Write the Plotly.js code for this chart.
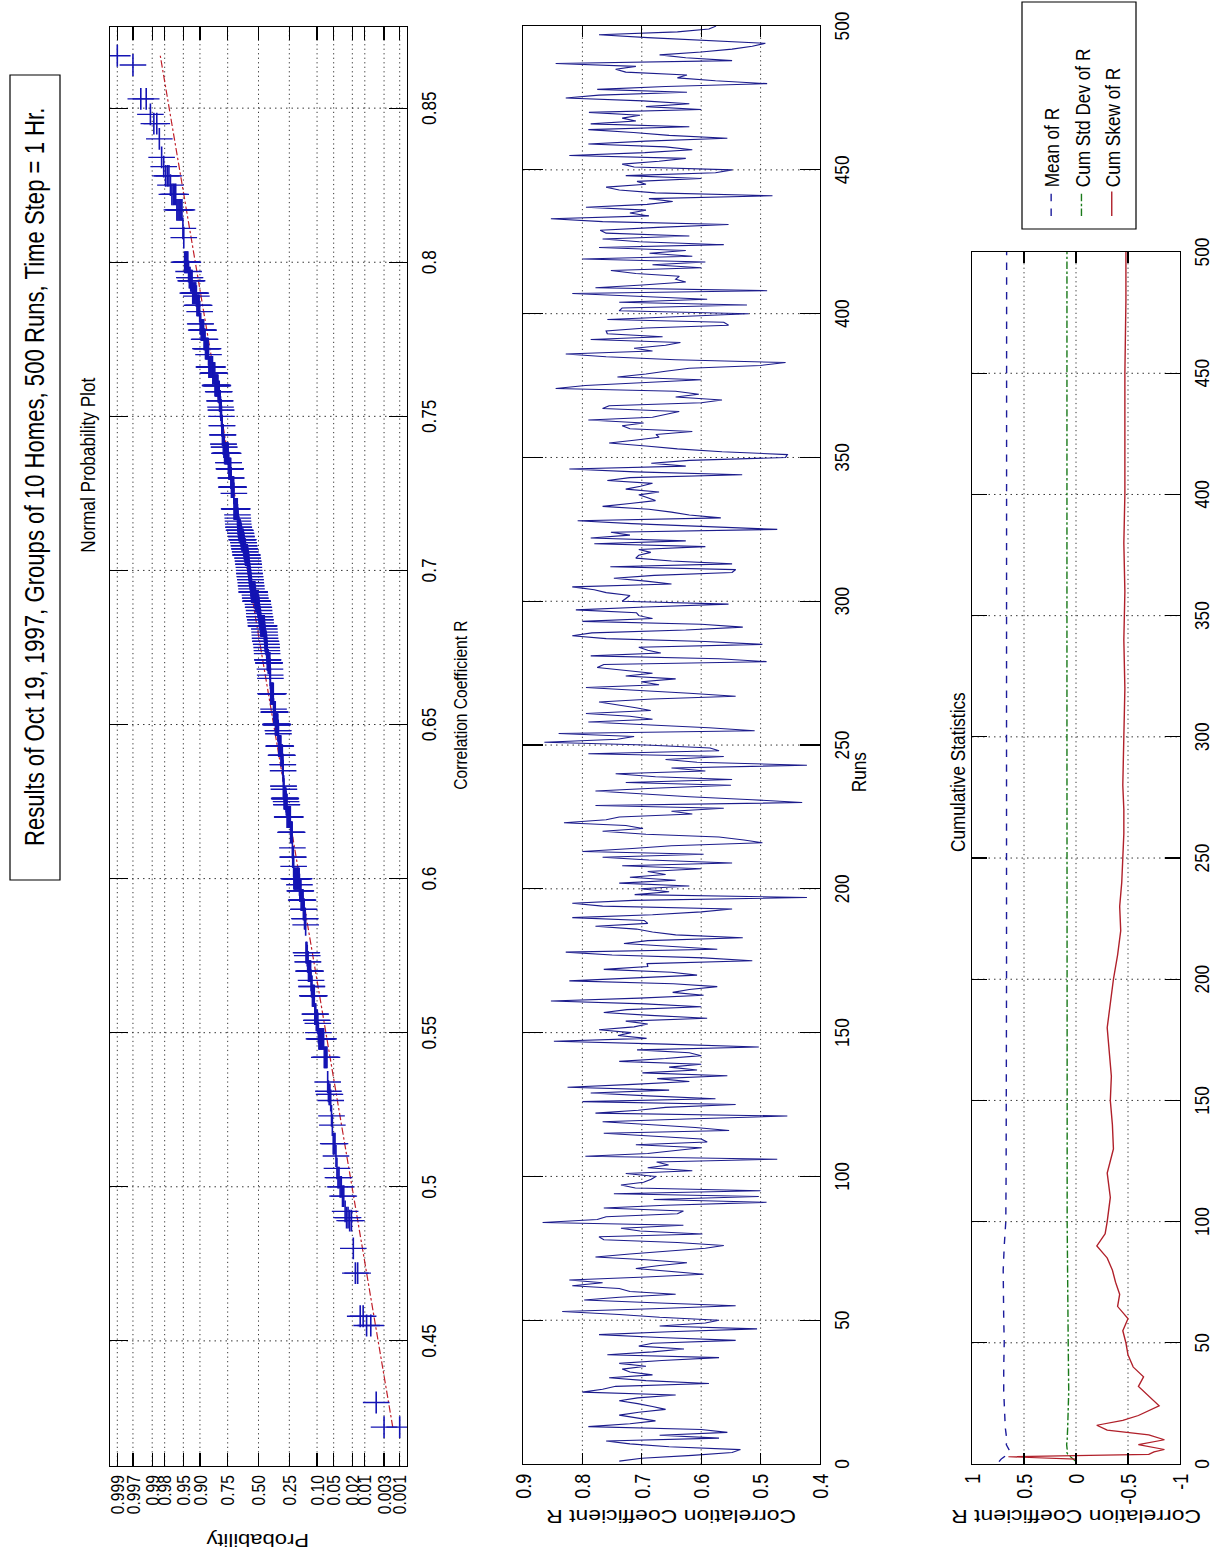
<!DOCTYPE html>
<html><head><meta charset="utf-8">
<script src="https://cdn.plot.ly/plotly-3.0.1.min.js"></script>
<style>
html,body{margin:0;padding:0;background:#fff;overflow:hidden;width:1225px;height:1554px;}
#wrap{position:absolute;left:0;top:0;width:1895px;height:1225px;transform-origin:0 0;transform:translate(0px,1554px) rotate(-90deg) scale(0.82,1);}
#plot{width:1895px;height:1225px;}
</style></head><body><div id="wrap"><div id="plot"></div></div>
<script>
// ---- data ----
const corrR = [
0.738,0.700,0.615,0.548,0.534,0.654,0.720,0.760,0.570,0.670,
0.556,0.600,0.790,0.720,0.677,0.705,0.738,0.705,0.660,0.682,
0.707,0.738,0.707,0.643,0.800,0.766,0.744,0.587,0.693,0.755,
0.682,0.720,0.733,0.693,0.738,0.666,0.570,0.758,0.682,0.629,
0.705,0.682,0.542,0.670,0.772,0.654,0.506,0.670,0.593,0.570,
0.670,0.738,0.834,0.682,0.542,0.670,0.797,0.738,0.643,0.720,
0.738,0.817,0.766,0.822,0.693,0.596,0.650,0.710,0.670,0.624,
0.693,0.778,0.720,0.654,0.593,0.562,0.640,0.764,0.772,0.598,
0.703,0.735,0.630,0.867,0.775,0.760,0.640,0.630,0.764,0.660,
0.490,0.680,0.503,0.747,0.500,0.711,0.735,0.697,0.684,0.676,
0.727,0.615,0.690,0.655,0.675,0.472,0.795,0.690,0.640,0.600,
0.710,0.590,0.600,0.678,0.764,0.553,0.610,0.683,0.766,0.625,
0.455,0.778,0.706,0.660,0.542,0.800,0.576,0.689,0.786,0.654,
0.825,0.715,0.620,0.674,0.556,0.699,0.607,0.654,0.600,0.738,
0.660,0.600,0.620,0.708,0.503,0.660,0.848,0.692,0.740,0.718,
0.772,0.713,0.690,0.727,0.590,0.686,0.764,0.725,0.600,0.695,
0.853,0.704,0.596,0.648,0.620,0.573,0.647,0.822,0.712,0.607,
0.650,0.764,0.690,0.691,0.514,0.596,0.750,0.828,0.573,0.650,
0.730,0.690,0.530,0.643,0.682,0.709,0.778,0.690,0.696,0.817,
0.682,0.600,0.548,0.766,0.817,0.714,0.422,0.712,0.654,0.702,
0.620,0.738,0.643,0.720,0.660,0.690,0.600,0.733,0.548,0.688,
0.766,0.596,0.800,0.716,0.650,0.497,0.528,0.570,0.693,0.766,
0.698,0.727,0.831,0.760,0.738,0.615,0.650,0.562,0.778,0.430,
0.514,0.620,0.707,0.778,0.681,0.550,0.727,0.548,0.677,0.744,
0.593,0.650,0.422,0.607,0.660,0.562,0.790,0.570,0.585,0.693,
0.864,0.741,0.713,0.840,0.510,0.587,0.685,0.790,0.682,0.720,
0.794,0.685,0.710,0.740,0.772,0.682,0.542,0.620,0.713,0.794,
0.671,0.701,0.643,0.727,0.682,0.730,0.775,0.764,0.490,0.570,
0.786,0.668,0.690,0.705,0.497,0.593,0.760,0.817,0.784,0.626,
0.530,0.600,0.800,0.682,0.705,0.709,0.811,0.694,0.554,0.733,
0.727,0.720,0.760,0.780,0.817,0.650,0.693,0.747,0.679,0.548,
0.542,0.753,0.548,0.650,0.710,0.705,0.685,0.705,0.593,0.780,
0.626,0.786,0.720,0.752,0.472,0.600,0.717,0.808,0.567,0.620,
0.650,0.688,0.766,0.720,0.677,0.690,0.705,0.671,0.727,0.702,
0.682,0.758,0.720,0.531,0.711,0.822,0.626,0.684,0.620,0.458,
0.455,0.565,0.640,0.693,0.755,0.713,0.671,0.676,0.615,0.720,
0.733,0.697,0.790,0.682,0.660,0.637,0.766,0.755,0.600,0.565,
0.643,0.604,0.643,0.845,0.795,0.706,0.600,0.741,0.693,0.660,
0.620,0.500,0.458,0.643,0.760,0.828,0.682,0.713,0.660,0.635,
0.786,0.665,0.758,0.760,0.693,0.554,0.562,0.758,0.650,0.520,
0.738,0.733,0.523,0.738,0.590,0.712,0.817,0.489,0.778,0.699,
0.626,0.643,0.637,0.710,0.752,0.600,0.682,0.593,0.800,0.615,
0.687,0.626,0.772,0.562,0.704,0.766,0.620,0.760,0.770,0.673,
0.554,0.766,0.853,0.688,0.720,0.693,0.794,0.691,0.648,0.688,
0.480,0.677,0.738,0.760,0.693,0.708,0.600,0.727,0.576,0.548,
0.713,0.733,0.671,0.626,0.822,0.695,0.615,0.660,0.790,0.693,
0.556,0.654,0.714,0.790,0.620,0.786,0.710,0.733,0.703,0.789,
0.600,0.693,0.620,0.698,0.828,0.772,0.624,0.775,0.660,0.489,
0.576,0.640,0.624,0.727,0.744,0.710,0.845,0.548,0.626,0.670,
0.600,0.548,0.514,0.492,0.600,0.690,0.772,0.640,0.587,0.575
];

// cumulative statistics
const meanRuns = [1,2,3,4,5,6,7,8,10,12,15,20,25,30,40,50,60,70,80,90,95,100,120,150,200,300,400,500];
const meanVals = [0.74,0.72,0.69,0.66,0.64,0.645,0.66,0.67,0.665,0.67,0.68,0.685,0.69,0.695,0.695,0.69,0.695,0.70,0.70,0.69,0.68,0.675,0.672,0.670,0.668,0.668,0.668,0.667];
const stdRuns = [1,2,3,4,5,6,8,10,15,20,30,50,80,100,150,200,300,400,500];
const stdVals = [0,0.03,0.06,0.08,0.09,0.085,0.09,0.085,0.08,0.075,0.07,0.075,0.08,0.085,0.085,0.087,0.087,0.087,0.087];
const skewRuns = [2,3,4,5,6,8,10,12,14,16,18,20,24,28,32,36,40,45,50,55,60,65,70,75,80,85,90,95,100,110,120,130,140,150,160,170,180,190,200,210,220,230,240,250,260,270,280,300,320,340,360,380,400,420,450,480,500];
const skewVals = [0,0.65,-0.7,-0.75,-0.85,-0.6,-0.85,-0.7,-0.3,-0.2,-0.45,-0.6,-0.8,-0.7,-0.6,-0.65,-0.55,-0.5,-0.48,-0.45,-0.5,-0.4,-0.42,-0.38,-0.35,-0.3,-0.2,-0.28,-0.3,-0.33,-0.3,-0.36,-0.35,-0.33,-0.34,-0.32,-0.3,-0.33,-0.36,-0.4,-0.43,-0.42,-0.44,-0.45,-0.46,-0.46,-0.45,-0.46,-0.47,-0.46,-0.47,-0.46,-0.47,-0.47,-0.47,-0.48,-0.48];

// tick labels
const probLabels = ['0.001','0.003','0.01','0.02','0.05','0.10','0.25','0.50','0.75','0.90','0.95','0.98','0.99','0.997','0.999'];
const rLabels = ['0.45','0.5','0.55','0.6','0.65','0.7','0.75','0.8','0.85'];
const runLabels = ['0','50','100','150','200','250','300','350','400','450','500'];
const corrLabels = ['0.4','0.5','0.6','0.7','0.8','0.9'];
const statLabels = ['-1','-0.5','0','0.5','1'];

// ---- helpers ----
function norminv(p){
  const a=[-3.969683028665376e+01,2.209460984245205e+02,-2.759285104469687e+02,1.383577518672690e+02,-3.066479806614716e+01,2.506628277459239e+00];
  const b=[-5.447609879822406e+01,1.615858368580409e+02,-1.556989798598866e+02,6.680131188771972e+01,-1.328068155288572e+01];
  const c=[-7.784894002430293e-03,-3.223964580411365e-01,-2.400758277161838e+00,-2.549671324348007e+00,4.374664141464968e+00,2.938163982698783e+00];
  const d=[7.784695709041462e-03,3.224671290700398e-01,2.445134137142996e+00,3.754408661907416e+00];
  const pl=0.02425, ph=1-pl; let q,r;
  if(p<pl){q=Math.sqrt(-2*Math.log(p));return (((((c[0]*q+c[1])*q+c[2])*q+c[3])*q+c[4])*q+c[5])/((((d[0]*q+d[1])*q+d[2])*q+d[3])*q+1);}
  if(p<=ph){q=p-0.5;r=q*q;return (((((a[0]*r+a[1])*r+a[2])*r+a[3])*r+a[4])*r+a[5])*q/(((((b[0]*r+b[1])*r+b[2])*r+b[3])*r+b[4])*r+1);}
  q=Math.sqrt(-2*Math.log(1-p));return -(((((c[0]*q+c[1])*q+c[2])*q+c[3])*q+c[4])*q+c[5])/((((d[0]*q+d[1])*q+d[2])*q+d[3])*q+1);
}
const n = corrR.length;
const runIdx = corrR.map((v,i)=>i+1);
const sorted = corrR.slice().sort((a,b)=>a-b);
const zPos = sorted.map((v,i)=>norminv((i+0.5)/n));
function quant(p){const h=n*p-0.5;const lo=Math.floor(h);const f=h-lo;return sorted[lo]+(sorted[lo+1]-sorted[lo])*f;}
const q1=quant(0.25), q3=quant(0.75), z1=norminv(0.25), z3=norminv(0.75);
const slope=(z3-z1)/(q3-q1);
const refX=[sorted[0], sorted[n-1]];
const refY=refX.map(x=>z1+(x-q1)*slope);

// final picture is the plot turned a quarter turn and squeezed along its width
const K=0.82, W=1554, H=1225, WP=Math.round(W/K);
const px = u=>u/W, py = v=>1-v/H;
const F='"Liberation Sans",Arial,Helvetica,sans-serif';

function ax(extra){return Object.assign({showline:true,linecolor:'#000',linewidth:1.4,mirror:'allticks',ticks:'inside',tickcolor:'#000',tickwidth:1.4,showgrid:true,gridcolor:'#222',griddash:'1.5px,4px',gridwidth:1,zeroline:false,fixedrange:true},extra);}
function ann(text,u,v,size,angle,extra){return Object.assign({text:text,xref:'paper',yref:'paper',x:px(u),y:py(v),xanchor:'center',yanchor:'middle',showarrow:false,textangle:angle||0,font:{family:F,size:size,color:'#000'}},extra||{});}
function box(u0,u1,v0,v1){return {type:'rect',xref:'paper',yref:'paper',x0:px(u0),x1:px(u1),y0:py(v1),y1:py(v0),line:{color:'#000',width:1.2},fillcolor:'#fff',layer:'below'};}

const traces=[
 {type:'scatter',mode:'lines',x:refX,y:refY,xaxis:'x',yaxis:'y',line:{color:'#c0202a',width:1.2,dash:'dashdot'},showlegend:false},
 {type:'scatter',mode:'markers',x:sorted,y:zPos,xaxis:'x',yaxis:'y',marker:{symbol:'cross-thin',size:19,color:'#1414b4',line:{color:'#1414b4',width:1.6}},showlegend:false},
 {type:'scatter',mode:'lines',x:runIdx,y:corrR,xaxis:'x2',yaxis:'y2',line:{color:'#1c1c8c',width:1.3},showlegend:false},
 {type:'scatter',mode:'lines',x:meanRuns,y:meanVals,xaxis:'x3',yaxis:'y3',name:'Mean of R',legendgroup:'a',line:{color:'#1c1c9c',width:1.4,dash:'dash'}},
 {type:'scatter',mode:'lines',x:stdRuns,y:stdVals,xaxis:'x3',yaxis:'y3',name:'Cum Std Dev of R',legendgroup:'b',line:{color:'#1a7a1a',width:1.4,dash:'dashdot'}},
 {type:'scatter',mode:'lines',x:skewRuns,y:skewVals,xaxis:'x3',yaxis:'y3',name:'Cum Skew of R',legendgroup:'c',line:{color:'#b0202a',width:1.4}}
];

const fx={family:F,size:21,color:'#000'};
const fy={family:F,size:22,color:'#000'};
const layout={
 width:WP,height:H,margin:{l:0,r:0,t:0,b:0},paper_bgcolor:'#fff',plot_bgcolor:'#fff',
 showlegend:true,
 legend:{x:px(1334),y:py(1031),xanchor:'left',yanchor:'top',borderwidth:0,bgcolor:'rgba(0,0,0,0)',font:{family:F,size:21,color:'#000'},tracegroupgap:0,itemwidth:30},
 shapes:[box(674,1479,10,60),box(1325,1552,1022,1136)],
 xaxis:ax({domain:[px(88),px(1527)],range:[0.4094,0.8763],tickvals:rLabels.map(Number),ticktext:rLabels,ticklen:18,tickfont:fx,anchor:'y',ticklabelstandoff:2}),
 yaxis:ax({domain:[py(407),py(110)],range:[-3.25,3.25],tickvals:probLabels.map(p=>norminv(Number(p))),ticktext:probLabels,ticklen:16,tickfont:{family:F,size:19,color:'#000'},anchor:'x',ticklabelstandoff:6}),
 xaxis2:ax({domain:[px(90),px(1528)],range:[0,500],tickvals:runLabels.map(Number),ticktext:runLabels,ticklen:20,tickfont:fx,anchor:'y2',ticklabelstandoff:2}),
 yaxis2:ax({domain:[py(820),py(523)],range:[0.4,0.9],tickvals:corrLabels.map(Number),ticktext:corrLabels,ticklen:13,tickfont:fy,anchor:'x2',ticklabelstandoff:6}),
 xaxis3:ax({domain:[px(90),px(1302)],range:[0,500],tickvals:runLabels.map(Number),ticktext:runLabels,ticklen:15,tickfont:fx,anchor:'y3',ticklabelstandoff:2}),
 yaxis3:ax({domain:[py(1180),py(972)],range:[-1,1],tickvals:statLabels.map(Number),ticktext:statLabels,ticklen:13,tickfont:fy,anchor:'x3',ticklabelstandoff:6}),
 annotations:[
  ann('Results of Oct 19, 1997, Groups of 10 Homes, 500 Runs, Time Step = 1 Hr.',1077,35,27,0),
  ann('Normal Probability Plot',1089,88,21),
  ann('Correlation Coefficient R',849,460,19),
  ann('Probability',14,258,22,-90),
  ann('Correlation Coefficient R',37,671,23,-90),
  ann('Runs',782,858,21),
  ann('Cumulative Statistics',782,957,21),
  ann('Correlation Coefficient R',37,1076,23,-90)
 ]
};
Plotly.newPlot('plot',traces,layout,{staticPlot:true,displayModeBar:false});
</script></body></html>
